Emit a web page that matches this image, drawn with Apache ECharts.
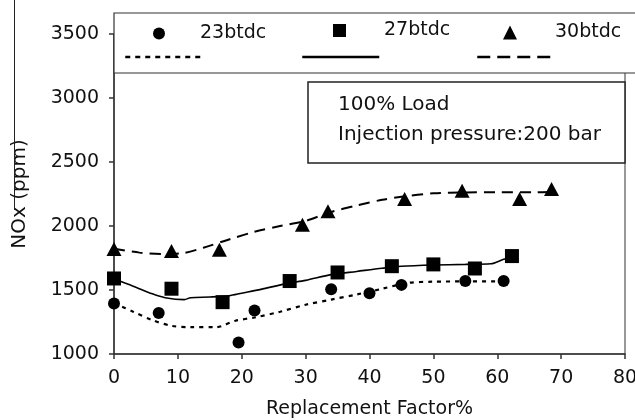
<!DOCTYPE html>
<html>
<head>
<meta charset="utf-8">
<script src="https://cdn.jsdelivr.net/npm/echarts@6/dist/echarts.min.js"></script>
<style>html,body{margin:0;padding:0;background:#fff}#c{width:635px;height:420px}</style>
</head>
<body>
<div id="c"></div>
<script>
// ---- data ----
var seriesNames = ['23btdc', '27btdc', '30btdc'];
var xTicks = [0, 10, 20, 30, 40, 50, 60, 70, 80];
var yTicks = [1000, 1500, 2000, 2500, 3000, 3500];

var x23 = [0, 7, 19.5, 22, 34, 40, 45, 55, 61];
var y23 = [1395, 1320, 1090, 1340, 1505, 1475, 1540, 1570, 1570];
var x27 = [0, 9, 17, 27.5, 35, 43.5, 50, 56.5, 62.3];
var y27 = [1590, 1510, 1405, 1570, 1637, 1686, 1700, 1668, 1765];
var x30 = [0, 9, 16.5, 29.5, 33.5, 45.5, 54.5, 63.5, 68.5];
var y30 = [1820, 1805, 1815, 2010, 2115, 2210, 2275, 2210, 2290];

var trend23X = [0, 3, 6, 9, 12, 16, 19, 22, 26, 30, 34, 38, 42, 46, 50, 55, 61];
var trend23Y = [1400, 1330, 1265, 1220, 1210, 1210, 1260, 1285, 1330, 1385, 1425, 1465, 1510, 1555, 1565, 1567, 1568];
var trend27X = [0, 3, 6, 8, 11, 12, 15, 18, 20, 23, 27, 30, 34, 38, 42, 45, 50, 55, 59, 61, 62];
var trend27Y = [1585, 1530, 1470, 1440, 1425, 1440, 1445, 1455, 1475, 1505, 1550, 1575, 1620, 1645, 1670, 1685, 1695, 1700, 1705, 1740, 1750];
var trend30X = [0, 4, 8, 11, 14, 18, 22, 26, 30, 34, 38, 42, 46, 50, 55, 60, 66, 69];
var trend30Y = [1822, 1792, 1780, 1790, 1830, 1895, 1955, 2000, 2040, 2110, 2160, 2205, 2235, 2255, 2262, 2263, 2263, 2268];

var noteLines = ['100% Load', 'Injection pressure:200 bar'];
var xName = 'Replacement Factor%';
var yName = 'NOx (ppm)';

function pairs(xs, ys) { return xs.map(function (x, i) { return [x, ys[i]]; }); }

var FONT = 'DejaVu Sans';
var INK = '#111';
var chart = echarts.init(document.getElementById('c'), null, { renderer: 'canvas' });

var trendNames = ['trend ' + seriesNames[0], 'trend ' + seriesNames[1], 'trend ' + seriesNames[2]];

function markerLegend(name, left, top, w, h, pad) {
  return {
    data: [name], left: left, top: top, padding: 0, itemWidth: w, itemHeight: h, z: 20,
    selectedMode: false,
    itemStyle: { color: '#000', opacity: 1 },
    textStyle: { fontFamily: FONT, fontSize: 19, color: INK, padding: [0, 0, 4, pad] }
  };
}
function lineLegend(name, left, top, w, dash) {
  return {
    data: [name], left: left, top: top, padding: 0, itemWidth: w, itemHeight: 10, z: 20,
    selectedMode: false, formatter: function () { return ''; },
    itemStyle: { opacity: 0 },
    lineStyle: { width: 2.5, type: dash, color: '#000' },
    textStyle: { fontSize: 1 }
  };
}

var option = {
  animation: false,
  backgroundColor: '#fff',
  grid: { left: 114, right: 10, top: 34, bottom: 66, show: true, borderColor: '#333', borderWidth: 1,
    backgroundColor: '#fff', containLabel: false, outerBoundsMode: 'none' },
  legend: [
    markerLegend(seriesNames[0], 153, 24, 12, 12, 30),
    markerLegend(seriesNames[1], 333, 21, 13, 13, 33),
    markerLegend(seriesNames[2], 503, 23, 14, 14, 33),
    lineLegend(trendNames[0], 124, 52, 75, [5, 5]),
    lineLegend(trendNames[1], 301, 52, 77, 'solid'),
    lineLegend(trendNames[2], 476, 52, 77, [13, 7])
  ],
  xAxis: {
    type: 'value', min: xTicks[0], max: xTicks[xTicks.length - 1], interval: 10,
    name: xName, nameLocation: 'middle', nameGap: 46,
    nameTextStyle: { fontFamily: FONT, fontSize: 19, color: INK },
    axisLine: { show: true, lineStyle: { color: '#333', width: 1.5 } },
    axisTick: { show: true, length: 5, lineStyle: { color: '#333', width: 1.5 } },
    axisLabel: { fontFamily: FONT, fontSize: 19, color: INK, margin: 15 },
    splitLine: { show: false }
  },
  yAxis: {
    type: 'value', min: yTicks[0], max: yTicks[yTicks.length - 1], interval: 500,
    name: yName, nameLocation: 'middle', nameGap: 84, nameRotate: 90,
    nameTextStyle: { fontFamily: FONT, fontSize: 20, color: INK },
    axisLine: { show: true, lineStyle: { color: '#333', width: 1.5 } },
    axisTick: { show: true, length: 5, lineStyle: { color: '#333', width: 1.5 } },
    axisLabel: { fontFamily: FONT, fontSize: 19, color: INK, margin: 15,
      formatter: function (v) { return String(v); } },
    splitLine: { show: false }
  },
  series: [
    { name: trendNames[0], type: 'line', data: pairs(trend23X, trend23Y), smooth: 0.3, symbol: 'none',
      lineStyle: { color: '#000', width: 2.2, type: [4, 5] }, itemStyle: { color: '#000' }, z: 3 },
    { name: trendNames[1], type: 'line', data: pairs(trend27X, trend27Y), smooth: 0.3, symbol: 'none',
      lineStyle: { color: '#000', width: 1.6, type: 'solid' }, itemStyle: { color: '#000' }, z: 3 },
    { name: trendNames[2], type: 'line', data: pairs(trend30X, trend30Y), smooth: 0.3, symbol: 'none',
      lineStyle: { color: '#000', width: 2, type: [11, 7] }, itemStyle: { color: '#000' }, z: 3 },
    { name: seriesNames[0], type: 'scatter', data: pairs(x23, y23), symbol: 'circle', symbolSize: 12,
      itemStyle: { color: '#000', opacity: 1 }, z: 4 },
    { name: seriesNames[1], type: 'scatter', data: pairs(x27, y27), symbol: 'rect', symbolSize: 14,
      itemStyle: { color: '#000', opacity: 1 }, z: 4 },
    { name: seriesNames[2], type: 'scatter', data: pairs(x30, y30), symbol: 'triangle', symbolSize: [15, 14],
      itemStyle: { color: '#000', opacity: 1 }, z: 4 }
  ],
  graphic: [
    { type: 'line', z: 10, shape: { x1: 14.5, y1: 0, x2: 14.5, y2: 210 }, style: { stroke: '#222', lineWidth: 1 } },
    { type: 'rect', z: 10, shape: { x: 114, y: 13, width: 522, height: 60 },
      style: { fill: '#fff', stroke: '#333', lineWidth: 1.2 } },
    { type: 'rect', z: 10, shape: { x: 308, y: 82, width: 317, height: 81 },
      style: { fill: '#fff', stroke: '#222', lineWidth: 1.5 } },
    { type: 'text', z: 11, x: 338, y: 105,
      style: { text: noteLines[0], fontFamily: FONT, fontSize: 20, fill: INK, verticalAlign: 'middle' } },
    { type: 'text', z: 11, x: 338, y: 135,
      style: { text: noteLines[1], fontFamily: FONT, fontSize: 20, fill: INK, verticalAlign: 'middle' } }
  ]
};
chart.setOption(option);
</script>
</body>
</html>
